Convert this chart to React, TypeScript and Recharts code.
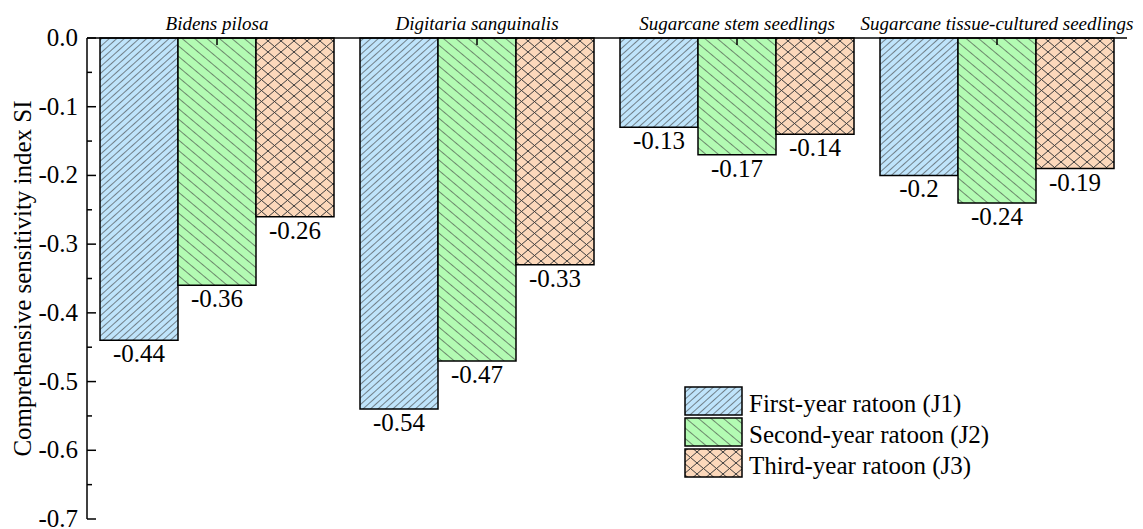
import React from "react";
import { BarChart, Bar, XAxis, YAxis, Legend, LabelList } from "recharts";

const categories = [
  "Bidens pilosa",
  "Digitaria sanguinalis",
  "Sugarcane stem seedlings",
  "Sugarcane tissue-cultured seedlings",
];
const j1Values = [-0.44, -0.54, -0.13, -0.2];
const j2Values = [-0.36, -0.47, -0.17, -0.24];
const j3Values = [-0.26, -0.33, -0.14, -0.19];

const seriesKeys = ["j1", "j2", "j3"];
const seriesNames = [
  "First-year ratoon (J1)",
  "Second-year ratoon (J2)",
  "Third-year ratoon (J3)",
];

const yTicks = [
  0, -0.05, -0.1, -0.15, -0.2, -0.25, -0.3, -0.35, -0.4, -0.45, -0.5, -0.55,
  -0.6, -0.65, -0.7,
];

const data = categories.map((name, i) => ({
  name,
  j1: j1Values[i],
  j2: j2Values[i],
  j3: j3Values[i],
}));

const SERIF = '"Times New Roman", "Liberation Serif", Tinos, "DejaVu Serif", serif';
const INK = "#000";
const HATCH = "#3c3c3c";

function Patterns() {
  return (
    <svg width={0} height={0} style={{ position: "absolute" }}>
      <defs>
        <pattern
          id="hatch-j1"
          patternUnits="userSpaceOnUse"
          width={5}
          height={10}
          patternTransform="rotate(48)"
        >
          <rect width={5} height={10} fill="#bfe4fb" />
          <line x1={0} y1={0} x2={0} y2={10} stroke={HATCH} strokeWidth={1.2} />
        </pattern>
        <pattern
          id="hatch-j2"
          patternUnits="userSpaceOnUse"
          width={8}
          height={10}
          patternTransform="rotate(-50)"
        >
          <rect width={8} height={10} fill="#b3fbb3" />
          <line x1={0} y1={0} x2={0} y2={10} stroke={HATCH} strokeWidth={1.2} />
        </pattern>
        <pattern id="hatch-j3" patternUnits="userSpaceOnUse" width={13} height={11}>
          <rect width={13} height={11} fill="#fcd8bb" />
          <line x1={0} y1={0} x2={13} y2={11} stroke={HATCH} strokeWidth={1} />
          <line x1={0} y1={11} x2={13} y2={0} stroke={HATCH} strokeWidth={1} />
        </pattern>
      </defs>
    </svg>
  );
}

const isMajor = (v: number) => Math.abs(v * 10 - Math.round(v * 10)) < 1e-6;

function YTick(props: any) {
  const { x, y, payload } = props;
  const v = payload.value as number;
  const major = isMajor(v);
  return (
    <g>
      <line x1={x} y1={y} x2={x + (major ? 9 : 5)} y2={y} stroke={INK} strokeWidth={1.5} />
      {major && (
        <text
          x={x - 9}
          y={y}
          dy={8}
          textAnchor="end"
          style={{ fontFamily: SERIF, fontSize: 25 }}
          fill={INK}
        >
          {v.toFixed(1)}
        </text>
      )}
    </g>
  );
}

function XTick(props: any) {
  const { x, y, payload } = props;
  return (
    <g>
      <line x1={x} y1={y} x2={x} y2={y + 7} stroke={INK} strokeWidth={1.5} />
      <text
        x={x}
        y={y - 8}
        textAnchor="middle"
        style={{ fontFamily: SERIF, fontSize: 19, fontStyle: "italic" }}
        fill={INK}
      >
        {payload.value}
      </text>
    </g>
  );
}

function ValueLabel(props: any) {
  const { x, y, width, height, value } = props;
  const bottom = Math.max(y, y + height);
  return (
    <text
      x={x + width / 2}
      y={bottom + 22}
      textAnchor="middle"
      style={{ fontFamily: SERIF, fontSize: 25 }}
      fill={INK}
    >
      {String(value)}
    </text>
  );
}

function LegendBox() {
  return (
    <svg width={330} height={96}>
      {seriesKeys.map((k, i) => (
        <g key={k}>
          <rect
            x={1}
            y={1 + 31 * i}
            width={57}
            height={28}
            fill={`url(#hatch-${k})`}
            stroke={INK}
            strokeWidth={1.5}
          />
          <text
            x={65}
            y={1 + 31 * i + 25}
            style={{ fontFamily: SERIF, fontSize: 25 }}
            fill={INK}
          >
            {seriesNames[i]}
          </text>
        </g>
      ))}
    </svg>
  );
}

function YTitle(props: any) {
  const { viewBox } = props;
  const cx = viewBox.x + 14;
  const cy = viewBox.y + viewBox.height / 2;
  return (
    <text
      x={cx}
      y={cy}
      transform={`rotate(-90, ${cx}, ${cy})`}
      textAnchor="middle"
      dominantBaseline="central"
      style={{ fontFamily: SERIF, fontSize: 25 }}
      fill={INK}
    >
      Comprehensive sensitivity index SI
    </text>
  );
}

export default function App() {
  return (
    <div style={{ position: "relative", width: 1135, height: 521, fontFamily: SERIF }}>
      <Patterns />
      <BarChart
        width={1135}
        height={521}
        data={data}
        margin={{ top: 0, right: 16, bottom: 10, left: 0 }}
        barGap={0}
        barCategoryGap={13}
      >
        <XAxis
          dataKey="name"
          orientation="top"
          height={30}
          interval={0}
          axisLine={{ stroke: INK, strokeWidth: 1.5 }}
          tickLine={false}
          tickSize={0}
          tickMargin={0}
          tick={<XTick />}
        />
        <YAxis
          type="number"
          domain={[-0.7, 0]}
          ticks={yTicks}
          interval={0}
          width={79}
          axisLine={{ stroke: INK, strokeWidth: 1.5 }}
          tickLine={false}
          tickSize={0}
          tickMargin={0}
          tick={<YTick />}
          label={{ content: <YTitle /> }}
        />
        <Legend
          layout="vertical"
          align="center"
          verticalAlign="middle"
          wrapperStyle={{ left: 676, top: 378, width: 330, height: 96 }}
          content={() => <LegendBox />}
        />
        {seriesKeys.map((k, i) => (
          <Bar
            key={k}
            dataKey={k}
            name={seriesNames[i]}
            fill={`url(#hatch-${k})`}
            stroke={INK}
            strokeWidth={1.5}
            isAnimationActive={false}
          >
            <LabelList dataKey={k} content={<ValueLabel />} />
          </Bar>
        ))}
      </BarChart>
    </div>
  );
}
